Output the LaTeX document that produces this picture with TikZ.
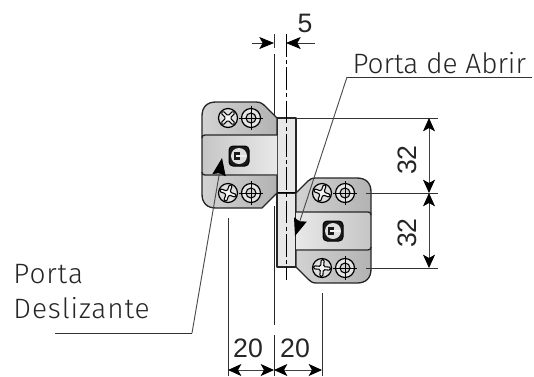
\documentclass[tikz,border=0pt]{standalone}
\usepackage{fontspec}
\setmainfont{Liberation Sans}
\newfontfamily\labelfont[UprightFont=* Light]{Fira Sans}
\usetikzlibrary{arrows.meta}

\tikzset{every picture/.style={line width=0.75pt}}
\tikzset{
  plateline/.style={line width=1pt,line join=round,draw=black!85},
  thinline/.style={line width=0.6pt,draw=black!80},
  doorline/.style={line width=0.7pt,draw=black!85},
  centreline/.style={line width=0.6pt,dash pattern=on 17pt off 2.5pt on 3pt off 2.5pt},
  dimline/.style={line width=0.6pt,draw=black!75,{Stealth[length=10pt,width=9pt,inset=2.5pt,color=black]}-{Stealth[length=10pt,width=9pt,inset=2.5pt,color=black]}},
  leader/.style={line width=0.7pt,draw=black!70,-{Stealth[length=13pt,width=10pt,inset=1.5pt,color=black]}},
  dimtext/.style={inner sep=0.75pt,text=black!85,font=\fontsize{20}{22}\selectfont},
  labeltext/.style={anchor=base west,inner sep=0pt,align=left,text=black!85,font=\labelfont\fontsize{21}{26}\selectfont}
}
\newcommand{\crossscrew}[3]{%
  \draw[line width=0.9pt,fill=gray!25] (#1,#2) circle (9.5);
  \draw[line width=0.8pt,rotate around={#3:(#1,#2)},fill=gray!8,rounded corners=1] (#1-8.5,#2-1.5) -- (#1-1.5,#2-1.5) -- (#1-1.5,#2-8.5) -- (#1+1.5,#2-8.5) -- (#1+1.5,#2-1.5) -- (#1+8.5,#2-1.5) -- (#1+8.5,#2+1.5) -- (#1+1.5,#2+1.5) -- (#1+1.5,#2+8.5) -- (#1-1.5,#2+8.5) -- (#1-1.5,#2+1.5) -- (#1-8.5,#2+1.5) -- cycle;
}
\newcommand{\washerscrew}[2]{%
  \draw[line width=0.9pt,fill=gray!20] (#1,#2) circle (9.5);
  \draw[line width=0.8pt,fill=gray!35] (#1,#2) circle (5);
  \draw[line width=0.5pt] (#1-12,#2) -- (#1+12,#2) (#1,#2-12) -- (#1,#2+12);
}
\newcommand{\camblock}[2]{%
  \draw[fill=black!90,rounded corners=3] (#1-10,#2-10) rectangle (#1+10,#2+10);
  \draw[fill=gray!25,draw=none] (#1,#2) circle (8);
  \draw[fill=black!90,draw=none] (#1-5,#2-4) rectangle (#1+1,#2+4);
  \draw[fill=gray!10,draw=none] (#1-3,#2-1.2) rectangle (#1+7,#2+1.2);
}

\begin{document}
\begin{tikzpicture}[x=0.75pt,y=0.75pt,yscale=-1,xscale=1]
    \useasboundingbox (0,0) rectangle (534,376);

    % door lines
    \draw[doorline] (274,54) -- (274,118);
    \draw[doorline] (274,206) -- (274,325);
    \draw[doorline] (274,335) -- (274,376);
    \draw[thinline] (274,34) -- (274,48);

    %Shape: hinge strips
    \draw[plateline,fill=gray!18] (277,118) -- (296,118) -- (296,193) -- (277,193) -- cycle;
    \draw[plateline,fill=gray!18] (277,193) -- (296,193) -- (296,267) -- (277,267) -- cycle;
    \draw[line width=1.2pt] (277,192.5) -- (296,192.5);

    %Shape: upper plate
    \shade[left color=gray!35,right color=gray!60] (216,102) -- (256,102) .. controls (261,102) and (263,104) .. (266,107) -- (277,118) -- (277,193) -- (262,208) -- (216,208) .. controls (207,208) and (202,203) .. (202,194) -- (202,116) .. controls (202,107) and (207,102) .. cycle;
    \shade[left color=gray!45,right color=gray!18] (202,135) rectangle (277,175);
    \draw[plateline] (277,135) -- (277,118) -- (266,107) .. controls (263,104) and (261,102) .. (256,102) -- (216,102) .. controls (207,102) and (202,107) .. (202,116) -- (202,194) .. controls (202,203) and (207,208) .. (216,208) -- (262,208) -- (277,193) -- (277,175);
    \draw[plateline] (202,138) .. controls (202,136) and (203,135) .. (205,135) -- (277,135);
    \draw[plateline] (202,172) .. controls (202,174) and (203,175) .. (205,175) -- (277,175);

    %Shape: lower plate
    \shade[left color=gray!35,right color=gray!60] (296,193) -- (308,181) .. controls (310,179) and (312,178) .. (316,178) -- (357,178) .. controls (366,178) and (371,183) .. (371,192) -- (371,269) .. controls (371,278) and (366,283) .. (357,283) -- (316,283) .. controls (312,283) and (310,281) .. (308,279) -- (296,267) -- cycle;
    \shade[left color=gray!18,right color=gray!45] (296,212) rectangle (371,250);
    \draw[plateline] (296,212) -- (296,193) -- (308,181) .. controls (310,179) and (312,178) .. (316,178) -- (357,178) .. controls (366,178) and (371,183) .. (371,192) -- (371,269) .. controls (371,278) and (366,283) .. (357,283) -- (316,283) .. controls (312,283) and (310,281) .. (308,279) -- (296,267) -- (296,250);
    \draw[plateline] (296,212) -- (368,212) .. controls (370,212) and (371,213) .. (371,215);
    \draw[plateline] (296,250) -- (368,250) .. controls (370,250) and (371,249) .. (371,247);

    % centre line
    \draw[centreline] (286,34) -- (286,280);

    %screws
    \crossscrew{228}{118}{45}
    \crossscrew{228}{193}{20}
    \crossscrew{322}{193}{20}
    \crossscrew{322}{268}{5}
    \foreach \px/\py in {251/118,251/193,345/193,345/268}
      {\washerscrew{\px}{\py}}
    \camblock{239}{156}
    \camblock{333}{231}

    % extension lines
    \draw[thinline] (296,118) -- (438,118);
    \draw[thinline] (366,193) -- (438,193);
    \draw[thinline] (366,268) -- (438,268);
    \draw[thinline] (228,218) -- (228,376);
    \draw[thinline] (322,293) -- (322,376);

    % Dimensions
    \coordinate (dimFiveL) at (274,43);
    \coordinate (dimFiveR) at (286,43);
    \draw[thinline,-{Stealth[length=11pt,width=9pt,inset=2.5pt,color=black]}] (252,43) -- (dimFiveL);
    \draw[thinline,-{Stealth[length=11pt,width=9pt,inset=2.5pt,color=black]}] (315,43) -- (dimFiveR);
    \coordinate (dimTopA) at (429,118);
    \coordinate (dimTopB) at (429,193);
    \coordinate (dimTopC) at (429,268);
    \draw[dimline] (dimTopA) -- (dimTopB);
    \draw[dimline] (dimTopB) -- (dimTopC);
    \coordinate (dimLowA) at (228,370);
    \coordinate (dimLowB) at (274,370);
    \coordinate (dimLowC) at (322,370);
    \draw[dimline] (dimLowA) -- (dimLowB);
    \draw[dimline] (dimLowB) -- (dimLowC);

    % Text Node
    \draw (305,23) node (txtFive) [dimtext] {5};
    % Text Node
    \draw (407,160) node (txtUpper) [dimtext,rotate=90] {32};
    % Text Node
    \draw (407,233) node (txtLower) [dimtext,rotate=90] {32};
    % Text Node
    \draw (248,348) node (txtLeft) [dimtext] {20};
    % Text Node
    \draw (295,348) node (txtRight) [dimtext] {20};
    % Text Node
    \draw (352,73) node (txtAbrir) [labeltext] {Porta de Abrir};
    % Text Node
    \draw (13,283) node (txtPorta) [labeltext] {\addfontfeature{LetterSpace=3.2}Porta};
    % Text Node
    \draw (13,318) node (txtDesl) [labeltext] {\addfontfeature{LetterSpace=3.2}Deslizante};

    % leaders
    \coordinate (abrirKnee) at (347,77);
    \coordinate (abrirEnd) at (532,77);
    \coordinate (abrirTip) at (295,236);
    \draw[thinline] (abrirEnd) -- (abrirKnee);
    \draw[leader] (abrirKnee) -- (abrirTip);
    \coordinate (deslStart) at (55,333);
    \coordinate (deslKnee) at (192,333);
    \coordinate (deslTip) at (222,158);
    \draw[thinline] (deslStart) -- (deslKnee);
    \draw[leader] (deslKnee) -- (deslTip);

\end{tikzpicture}
\end{document}
